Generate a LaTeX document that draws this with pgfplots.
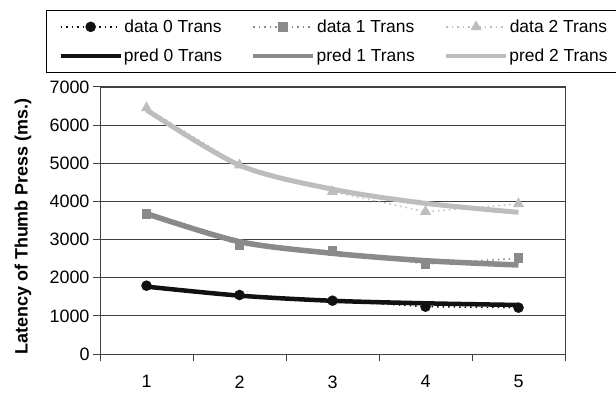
\documentclass[border=0pt]{standalone}
\usepackage{fontspec}
\setmainfont{Liberation Sans}
\usepackage{pgfplots}
\pgfplotsset{compat=1.18}
\definecolor{c0}{HTML}{111111}
\definecolor{c1}{HTML}{8A8A8A}
\definecolor{c2}{HTML}{BDBDBD}
\definecolor{frame}{HTML}{404040}
\begin{document}
\begin{tikzpicture}[font=\fontsize{18}{21}\selectfont]
\useasboundingbox (0,0) rectangle (616bp,393bp);
\begin{axis}[
  at={(100bp,39bp)}, anchor=south west,
  scale only axis, width=465bp, height=267bp,
  xmin=0.5, xmax=5.5, ymin=0, ymax=7000,
  xtick={0.5,1.5,2.5,3.5,4.5,5.5}, xticklabels={},
  extra x ticks={1,2,3,4,5}, extra x tick labels={1,2,3,4,5},
  extra x tick style={major tick length=0pt, tick style={draw=none}},
  xticklabel style={yshift=-18bp},
  ytick={0,1000,...,7000},
  xtick pos=bottom, ytick pos=left,
  tick align=outside, major tick length=7bp,
  ymajorgrids, grid style={frame, line width=0.8bp},
  axis line style={frame, line width=1bp},
  tick style={frame, line width=1bp},
  scaled y ticks=false,
  /pgf/number format/.cd, assume math mode=true, 1000 sep={}, /pgfplots/.cd,
  ylabel={\bfseries Latency of Thumb Press (ms.)},
  ylabel style={at={(axis description cs:-0.1656,0.4775)}, anchor=center},
  legend columns=3,
  legend style={at={(axis description cs:0.501,1.2873)}, anchor=north,
    draw=black, line width=1bp, font=\fontsize{17.5}{21}\selectfont,
    inner xsep=11.5bp, inner ysep=9bp,
    nodes={inner sep=0pt},
    row sep=15bp,
    /tikz/every odd column/.append style={column sep=1bp},
    /tikz/every even column/.append style={column sep=29bp}},
  legend image code/.code={\draw[mark repeat=2,mark phase=2,#1] plot coordinates {(0bp,0bp) (30bp,0bp) (60bp,0bp)};},
]
\addlegendimage{c0, line width=1.5bp, dash pattern=on 1.5bp off 4bp, mark=*, mark size=4.5bp, mark options={solid}}
\addlegendentry{data 0 Trans}
\addlegendimage{c1, line width=1.5bp, dash pattern=on 1.5bp off 4bp, mark=square*, mark size=4.2bp, mark options={solid}}
\addlegendentry{data 1 Trans}
\addlegendimage{c2, line width=1.5bp, dash pattern=on 1.5bp off 4bp, mark=triangle*, mark size=5bp, mark options={solid}}
\addlegendentry{data 2 Trans}
\addlegendimage{c0, line width=4.5bp, no marks}
\addlegendentry{pred 0 Trans}
\addlegendimage{c1, line width=4.5bp, no marks}
\addlegendentry{pred 1 Trans}
\addlegendimage{c2, line width=4.5bp, no marks}
\addlegendentry{pred 2 Trans}

% predicted curves
\addplot[forget plot, c2, line width=5bp, smooth] coordinates {(1,6400) (2,4950) (3,4320) (4,3950) (5,3715)};
\addplot[forget plot, c1, line width=5.5bp, smooth] coordinates {(1,3680) (2,2945) (3,2640) (4,2446) (5,2333)};
\addplot[forget plot, c0, line width=4.5bp, smooth] coordinates {(1,1766) (2,1530) (3,1395) (4,1329) (5,1285)};
% observed data
\addplot[forget plot, c2, line width=1.5bp, dash pattern=on 1.5bp off 4bp, mark=triangle*, mark size=5bp, mark options={solid}] coordinates {(1,6450) (2,4955) (3,4256) (4,3731) (5,3933)};
\addplot[forget plot, c1, line width=1.5bp, dash pattern=on 1.5bp off 4bp, mark=square*, mark size=4.2bp, mark options={solid}] coordinates {(1,3670) (2,2858) (3,2700) (4,2360) (5,2509)};
\addplot[forget plot, c0, line width=1.5bp, dash pattern=on 1.5bp off 4bp, mark=*, mark size=4.5bp, mark options={solid}] coordinates {(1,1791) (2,1547) (3,1398) (4,1241) (5,1215)};
\end{axis}
\end{tikzpicture}
\end{document}
